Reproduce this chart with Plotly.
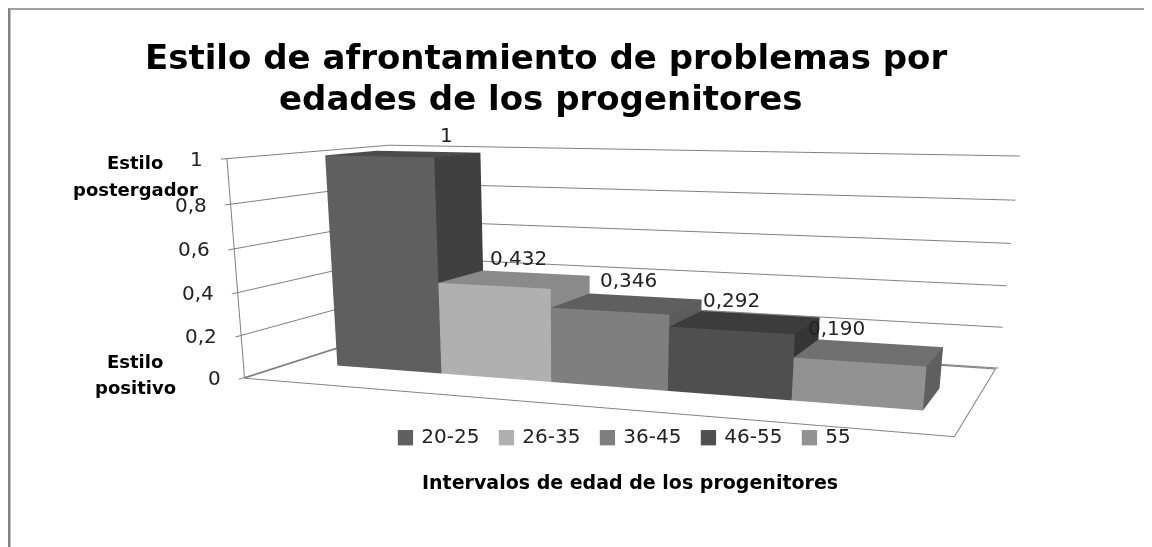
import plotly.graph_objects as go

# Values
categories = ['20-25', '26-35', '36-45', '46-55', '55']
values = [1, 0.432, 0.346, 0.292, 0.190]
value_labels = ['1', '0,432', '0,346', '0,292', '0,190']
z_ticks = [0, 0.2, 0.4, 0.6, 0.8, 1]
z_ticktext = ['0', '0,2', '0,4', '0,6', '0,8', '1']

front_colors = ['#5f5f5f', '#b0b0b0', '#7f7f7f', '#4f4f4f', '#929292']
top_colors = ['#4c4c4c', '#8a8a8a', '#5f5f5f', '#3c3c3c', '#707070']
side_colors = ['#404040', '#8a8a8a', '#5c5c5c', '#353535', '#5f5f5f']

X_RANGE = [-0.43, 5.33]
BAR_DEPTH = [0.29, 0.62]
PAD = 0.02

# label nudges in pixels
label_xshift = [19, -17, -16, -28, -43]
label_yshift = [17, 15, 16, 14, 15]

# the page has an 8px body margin, figure is made tall so the lens gets long
W, H = 1144, 1190


def px(x):
    return (x - 8) / W


def py(y):
    return 1 - (y - 8) / H


def bar_mesh(i, h, name):
    x0, x1 = i, i + 1
    y0, y1 = BAR_DEPTH
    f, t, s = front_colors[i], top_colors[i], side_colors[i]
    return go.Mesh3d(
        x=[x0, x1, x1, x0, x0, x1, x1, x0],
        y=[y0, y0, y1, y1, y0, y0, y1, y1],
        z=[0, 0, 0, 0, h, h, h, h],
        i=[0, 0, 4, 4, 1, 1, 0, 0, 3, 3, 0, 0],
        j=[1, 5, 5, 6, 2, 6, 3, 7, 2, 6, 1, 2],
        k=[5, 4, 6, 7, 6, 5, 7, 4, 6, 7, 2, 3],
        facecolor=[f, f, t, t, s, s, s, s, s, s, f, f],
        flatshading=True,
        lighting=dict(ambient=1, diffuse=0, specular=0, fresnel=0),
        hoverinfo='skip',
        name=name,
        showlegend=False,
    )


fig = go.Figure()
for n, cat in enumerate(categories):
    fig.add_trace(bar_mesh(n, values[n], cat))

# outline of the floor and the left edge
fig.add_trace(go.Scatter3d(
    x=[X_RANGE[0], X_RANGE[0], X_RANGE[1], X_RANGE[1], X_RANGE[0], X_RANGE[0]],
    y=[1, 0, 0, 1, 1, 0],
    z=[0, 0, 0, 0, 0, 0],
    mode='lines',
    line=dict(color='#808080', width=2),
    hoverinfo='skip',
    showlegend=False,
))
fig.add_trace(go.Scatter3d(
    x=[X_RANGE[0], X_RANGE[0]], y=[0, 0], z=[0, 1],
    mode='lines',
    line=dict(color='#808080', width=2),
    hoverinfo='skip',
    showlegend=False,
))

axis_off = dict(showgrid=False, showticklabels=False, showline=False, zeroline=False,
                showbackground=False, title='', ticks='', showspikes=False)

label_font = dict(family='DejaVu Sans', size=20, color='#222222')

# tick labels and value labels sit in the scene so they follow the projection
scene_notes = []
for t, label in zip(z_ticks, z_ticktext):
    scene_notes.append(dict(x=X_RANGE[0], y=0, z=t, text=label, showarrow=False,
                            xanchor='right', xshift=-22, font=label_font))
for n, label in enumerate(value_labels):
    scene_notes.append(dict(x=n + 0.5, y=BAR_DEPTH[1], z=values[n], text=label, showarrow=False,
                            xshift=label_xshift[n], yshift=label_yshift[n], font=label_font))

bold_font = dict(family='DejaVu Sans', size=18, color='black')
title_font = dict(family='DejaVu Sans', size=34, color='black')
notes = [
    dict(text='<b>Estilo de afrontamiento de problemas por</b>', x=px(546), y=py(57), font=title_font),
    dict(text='<b>edades de los progenitores</b>', x=px(541), y=py(98), font=title_font),
    dict(text='<b>Estilo</b>', x=px(135), y=py(163), font=bold_font),
    dict(text='<b>postergador</b>', x=px(135), y=py(189), font=bold_font),
    dict(text='<b>Estilo</b>', x=px(135), y=py(361), font=bold_font),
    dict(text='<b>positivo</b>', x=px(135), y=py(387), font=bold_font),
    dict(text='<b>Intervalos de edad de los progenitores</b>', x=px(630), y=py(482),
         font=dict(family='DejaVu Sans', size=19, color='black')),
]
for note in notes:
    note.update(xanchor='center')
for n, cat in enumerate(categories):
    notes.append(dict(text='<span style="color:%s">■</span> %s' % (front_colors[n], cat),
                      x=px(394 + 101 * n), y=py(436), xanchor='left', font=label_font))
for note in notes:
    note.update(xref='paper', yref='paper', yanchor='middle', showarrow=False)

fig.update_layout(
    width=W, height=H,
    margin=dict(l=0, r=0, t=0, b=0),
    paper_bgcolor='white',
    showlegend=False,
    scene=dict(
        domain=dict(x=[0, 1], y=[0, 1]),
        aspectmode='manual',
        aspectratio=dict(x=2.976, y=1.42, z=0.91),
        camera=dict(eye=dict(x=2.040, y=-5.826, z=0.744), center=dict(x=0.347, y=-1.4475, z=-0.964),
                    up=dict(x=0, y=0, z=1), projection=dict(type='perspective')),
        xaxis=dict(axis_off, range=[X_RANGE[0] - PAD, X_RANGE[1] + PAD]),
        yaxis=dict(axis_off, range=[-PAD, 1 + PAD]),
        zaxis=dict(axis_off, range=[-PAD / 2, 1 + PAD / 2], showgrid=True, gridcolor='#808080',
                   gridwidth=2, tickvals=z_ticks, ticktext=z_ticktext),
        annotations=scene_notes,
    ),
    shapes=[
        dict(type='line', xref='paper', yref='paper', x0=px(9), x1=px(9), y0=0, y1=py(8),
             line=dict(color='#808080', width=3)),
        dict(type='line', xref='paper', yref='paper', x0=px(9), x1=1, y0=py(9), y1=py(9),
             line=dict(color='#a0a0a0', width=2)),
    ],
    annotations=notes,
)

fig.write_html("out.html")
